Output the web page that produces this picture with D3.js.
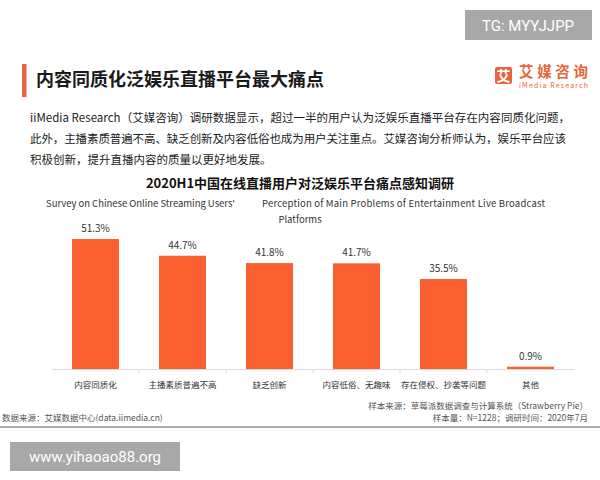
<!DOCTYPE html>
<html>
<head>
<meta charset="utf-8">
<script src="https://cdn.jsdelivr.net/npm/d3@7"></script>
<style>
  body { margin: 0; background: #fff; }
  text { font-family: "Noto Sans CJK SC", "Noto Sans", sans-serif; }
</style>
</head>
<body>
<svg id="chart" width="600" height="480"></svg>
<script>
// data
var categories = ["内容同质化", "主播素质普遍不高", "缺乏创新", "内容低俗、无趣味", "存在侵权、抄袭等问题", "其他"];
var values = [51.3, 44.7, 41.8, 41.7, 35.5, 0.9];
var introLines = [
    "iiMedia Research（艾媒咨询）调研数据显示，超过一半的用户认为泛娱乐直播平台存在内容同质化问题，",
    "此外，主播素质普遍不高、缺乏创新及内容低俗也成为用户关注重点。艾媒咨询分析师认为，娱乐平台应该",
    "积极创新，提升直播内容的质量以更好地发展。"
];
var introWidths = [540, 536, null];

var orange = "#f95f2f";
var svg = d3.select("#chart");

/* watermark boxes */
svg.append("rect").attr("x", 465).attr("y", 10).attr("width", 127).attr("height", 30).attr("fill", "#a8a8a8");
svg.append("text").attr("x", 528).attr("y", 31).attr("text-anchor", "middle")
    .attr("fill", "#fff").style("font-family", "Roboto, sans-serif").attr("font-size", 15)
    .text("TG: MYYJJPP");
svg.append("rect").attr("x", 10).attr("y", 442).attr("width", 170).attr("height", 29).attr("fill", "#a8a8a8");
svg.append("text").attr("x", 95).attr("y", 462).attr("text-anchor", "middle")
    .attr("fill", "#fff").style("font-family", "Roboto, sans-serif").attr("font-size", 15)
    .text("www.yihaoao88.org");

/* header */
svg.append("rect").attr("x", 22).attr("y", 64).attr("width", 4.5).attr("height", 33).attr("fill", "#e8643a");
svg.append("text").attr("x", 36).attr("y", 86).attr("font-size", 18).attr("font-weight", "bold")
    .attr("fill", "#1a1a1a").text("内容同质化泛娱乐直播平台最大痛点");

/* logo */
svg.append("rect").attr("x", 495).attr("y", 67).attr("width", 17).attr("height", 17).attr("rx", 2).attr("fill", "#e8643a");
svg.append("text").attr("x", 503.5).attr("y", 81).attr("text-anchor", "middle").attr("font-size", 14)
    .attr("font-weight", "bold").attr("fill", "#fff").text("艾");
svg.append("text").attr("x", 519).attr("y", 77).attr("font-size", 14.5).attr("font-weight", "bold")
    .attr("fill", "#e8643a").attr("textLength", 69).text("艾媒咨询");
svg.append("text").attr("x", 519).attr("y", 88).attr("font-size", 7)
    .attr("fill", "#e8643a").attr("textLength", 69).text("iMedia Research");

/* intro paragraph */
svg.append("g").selectAll("text")
    .data(introLines)
    .join("text")
    .attr("x", 30)
    .attr("y", (d, i) => 122 + i * 21)
    .attr("font-size", 11.5)
    .attr("fill", "#222")
    .text(d => d)
    .each(function(d, i) {
        if (introWidths[i]) d3.select(this).attr("textLength", introWidths[i]);
    });

/* chart titles */
svg.append("text").attr("x", 300).attr("y", 188).attr("text-anchor", "middle")
    .attr("font-size", 13).attr("font-weight", "bold").attr("fill", "#111")
    .text("2020H1中国在线直播用户对泛娱乐平台痛点感知调研");
var sub = svg.append("text").attr("y", 207)
    .attr("font-size", 9.5).attr("fill", "#333");
sub.append("tspan").attr("x", 46).attr("textLength", 189)
    .text("Survey on Chinese Online Streaming Users'");
sub.append("tspan").attr("x", 262).attr("textLength", 283)
    .text("Perception of Main Problems of Entertainment Live Broadcast");
svg.append("text").attr("x", 300).attr("y", 223).attr("text-anchor", "middle")
    .attr("font-size", 9.5).attr("fill", "#333").text("Platforms");

/* bars */
var x = d3.scaleBand()
    .domain(categories)
    .range([52, 574])
    .paddingInner(0.46)
    .paddingOuter(0.23);

var y = d3.scaleLinear()
    .domain([0, 51.3])
    .range([369, 239]);

var g = svg.append("g");
g.selectAll("rect.bar")
    .data(values)
    .join("rect")
    .attr("class", "bar")
    .attr("x", (d, i) => x(categories[i]))
    .attr("y", d => y(d))
    .attr("width", x.bandwidth())
    .attr("height", d => y(0) - y(d))
    .attr("fill", orange);

g.selectAll("text.val")
    .data(values)
    .join("text")
    .attr("class", "val")
    .attr("x", (d, i) => x(categories[i]) + x.bandwidth() / 2)
    .attr("y", d => y(d) - 7)
    .attr("text-anchor", "middle")
    .attr("font-size", 10)
    .attr("fill", "#333")
    .text(d => d.toFixed(1) + "%");

/* x axis */
var axis = svg.append("g")
    .attr("transform", "translate(0,369)")
    .call(d3.axisBottom(x).tickSize(0).tickPadding(13));
axis.select(".domain").attr("stroke", "#d9d9d9");
axis.selectAll(".tick text")
    .attr("font-size", 8.5)
    .attr("fill", "#333")
    .style("font-family", "'Noto Sans CJK SC', sans-serif");
// small separators between categories
axis.selectAll("line.sep")
    .data(categories.slice(1))
    .join("line")
    .attr("class", "sep")
    .attr("x1", d => x(d) - x.step() * x.paddingInner() / 2)
    .attr("x2", d => x(d) - x.step() * x.paddingInner() / 2)
    .attr("y1", 0).attr("y2", 4)
    .attr("stroke", "#d9d9d9");

/* footer */
svg.append("text").attr("x", 588).attr("y", 409).attr("text-anchor", "end")
    .attr("font-size", 8.5).attr("fill", "#555").text("样本来源：草莓派数据调查与计算系统（Strawberry Pie）");
svg.append("text").attr("x", 588).attr("y", 421).attr("text-anchor", "end")
    .attr("font-size", 8.5).attr("fill", "#555").text("样本量：N=1228；调研时间：2020年7月");
svg.append("text").attr("x", 2).attr("y", 421)
    .attr("font-size", 8.5).attr("fill", "#555").text("数据来源：艾媒数据中心(data.iimedia.cn)");
svg.append("line").attr("x1", 0).attr("x2", 600).attr("y1", 427).attr("y2", 427)
    .attr("stroke", "#aaa").attr("stroke-width", 2);
</script>
</body>
</html>
